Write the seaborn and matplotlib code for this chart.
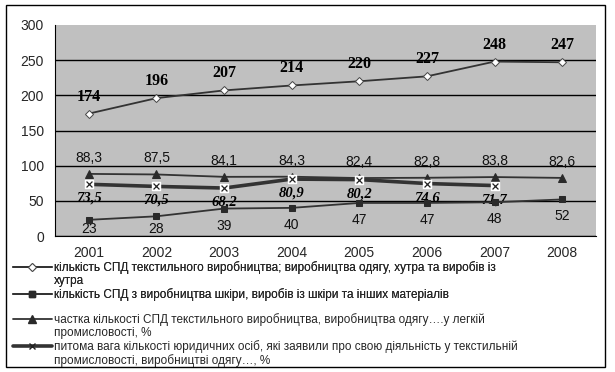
import numpy as np
import pandas as pd
import matplotlib
matplotlib.use("Agg")
import matplotlib.pyplot as plt
from matplotlib.lines import Line2D
import seaborn as sns

years = ["2001", "2002", "2003", "2004", "2005", "2006", "2007", "2008"]
spd_textile = [174, 196, 207, 214, 220, 227, 248, 247]
spd_leather = [23, 28, 39, 40, 47, 47, 48, 52]
share_light = [88.3, 87.5, 84.1, 84.3, 82.4, 82.8, 83.8, 82.6]
share_legal = [73.5, 70.5, 68.2, 80.9, 80.2, 74.6, 71.7]

# legend text, one list per entry (first row goes next to the marker)
leg_textile = ["кількість СПД текстильного виробництва; виробництва одягу, хутра та виробів із", "хутра"]
leg_leather = ["кількість СПД з виробництва шкіри, виробів із шкіри та інших матеріалів"]
leg_light = ["частка кількості СПД текстильного виробництва, виробництва одягу….у легкій", "промисловості, %"]
leg_legal = ["питома вага кількості юридичних осіб, які заявили про свою діяльність у текстильній",
             "промисловості, виробництві одягу…, %"]

def fmt(v):
    # comma decimals like the original
    return str(v).replace(".", ",")

sns.set_style("white")
plt.rcParams["font.family"] = ["Liberation Sans", "DejaVu Sans"]

fig = plt.figure(figsize=(6.15, 3.72), dpi=100)
ax = fig.add_axes([55 / 615, 1 - 236 / 372, 541 / 615, 211 / 372])
ax.set_facecolor("#c0c0c0")
px_per_unit = 211 / 300

x = np.arange(len(years))
df1 = pd.DataFrame({"x": x, "y": spd_textile})
df2 = pd.DataFrame({"x": x, "y": spd_leather})
df3 = pd.DataFrame({"x": x, "y": share_light})
df4 = pd.DataFrame({"x": x[:len(share_legal)], "y": share_legal})

lc = "#333333"
mk = "#2a2a2a"
st1 = dict(color=lc, lw=1.3, marker="D", ms=4, mfc="white", mec="#444444", mew=0.7)
st2 = dict(color=lc, lw=1.3, marker="s", ms=5, mfc=mk, mec=mk)
st3 = dict(color=lc, lw=1.3, marker="^", ms=6, mfc=mk, mec=mk)
st4 = dict(color=lc, lw=2.6)
sns.lineplot(data=df1, x="x", y="y", ax=ax, zorder=4, **st1)
sns.lineplot(data=df2, x="x", y="y", ax=ax, zorder=4, **st2)
sns.lineplot(data=df3, x="x", y="y", ax=ax, zorder=4, **st3)
sns.lineplot(data=df4, x="x", y="y", ax=ax, zorder=4, **st4)
# white boxes behind the x markers
ax.scatter(df4["x"], df4["y"], marker="s", s=38, color="white", zorder=5)
ax.scatter(df4["x"], df4["y"], marker="x", s=18, color="#222222", lw=0.9, zorder=6)

for xi, v in zip(x, spd_textile):
    ax.annotate(str(v), (xi, v), xytext=(0, 17), textcoords="offset pixels",
                ha="center", va="center", fontsize=11.5, fontweight="bold",
                family="Liberation Serif", color="black")
for xi, v in zip(x, share_light):
    ax.annotate(fmt(v), (xi, v), xytext=(0, 16), textcoords="offset pixels",
                ha="center", va="center", fontsize=10, color="#111111")
for xi, v in zip(x, spd_leather):
    # keep the labels inside the plot area, like Excel does
    off = min(17, v * px_per_unit - 7)
    ax.annotate(str(v), (xi, v), xytext=(0, -off), textcoords="offset pixels",
                ha="center", va="center", fontsize=10, color="#111111")
for xi, v in zip(df4["x"], share_legal):
    ax.annotate(fmt(v), (xi, v), xytext=(0, -14), textcoords="offset pixels",
                ha="center", va="center", fontsize=10.5, fontweight="bold",
                style="italic", family="Liberation Serif", color="black")

ax.set_xlim(-0.5, len(years) - 0.5)
ax.set_ylim(0, 300)
ax.set_yticks(range(0, 301, 50))
ax.set_xticks(x)
ax.set_xticklabels(years)
ax.set_xticks(np.arange(-0.5, len(years), 1), minor=True)
ax.tick_params(axis="x", which="major", length=0, labelsize=10, pad=7)
ax.tick_params(axis="x", which="minor", length=5, width=1, direction="out", color="black")
ax.tick_params(axis="y", length=5, width=1, direction="out", color="black", labelsize=10, pad=3)
ax.yaxis.grid(True, color="black", lw=1)
ax.set_axisbelow(True)
ax.set_xlabel("")
ax.set_ylabel("")
for side in ["top", "right"]:
    ax.spines[side].set_visible(False)
ax.spines["left"].set_color("black")
ax.spines["bottom"].set_color("black")
fig.canvas.draw()
ax.yaxis.get_gridlines()[-1].set_visible(False)

blank = Line2D([], [], linestyle="none")

def rows(style, texts):
    return [Line2D([], [], **style)] + [blank] * (len(texts) - 1), texts

leg_kw = dict(loc="upper left", frameon=False, fontsize=8.5, handlelength=3.3,
              handleheight=0.6, handletextpad=0.15, labelspacing=0.08,
              borderpad=0, borderaxespad=0)
h1, t1 = rows(st1, leg_textile)
h2, t2 = rows(st2, leg_leather)
h3, t3 = rows(st3, leg_light)
h4, t4 = rows(dict(st4, marker="x", ms=4, mec="#222222", mfc="white"), leg_legal)
leg_a = fig.legend(h1 + h2, t1 + t2, bbox_to_anchor=(13 / 615, 1 - 261 / 372), **leg_kw)
fig.legend(h3 + h4, t3 + t4, bbox_to_anchor=(13 / 615, 1 - 313 / 372), **leg_kw)
fig.add_artist(leg_a)

fig.patches.append(plt.Rectangle((6 / 615, 5 / 372), 599 / 615, 362 / 372,
                                 transform=fig.transFigure, fill=False,
                                 edgecolor="black", lw=1))

fig.savefig("out.png", dpi=100)
